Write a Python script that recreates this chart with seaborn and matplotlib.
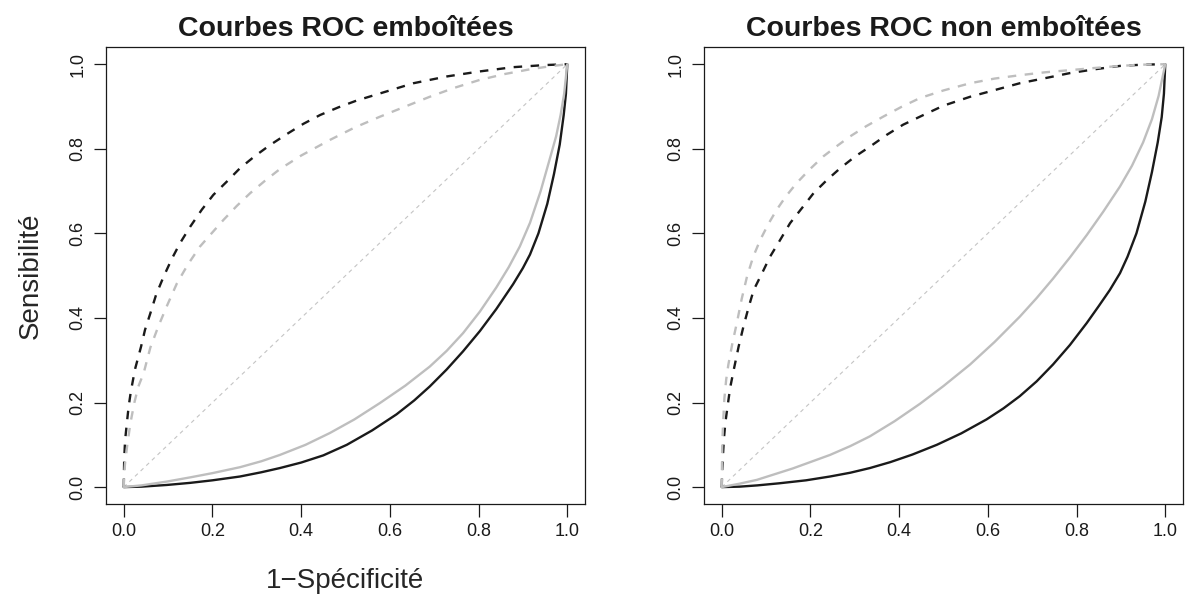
import matplotlib
matplotlib.use("Agg")
import matplotlib.pyplot as plt
import seaborn as sns

# ---------------- data ----------------
titles = ["Courbes ROC emboîtées", "Courbes ROC non emboîtées"]
xlabel = "1\u2212Spécificité"
ylabel = "Sensibilité"
ticks = [0.0, 0.2, 0.4, 0.6, 0.8, 1.0]
tick_labels = ["0.0", "0.2", "0.4", "0.6", "0.8", "1.0"]
diag = [0.0, 1.0]

# Panel 1 : nested curves
p1_black_dash_x = [0, 0.001, 0.003, 0.007, 0.011, 0.016, 0.021, 0.026, 0.039, 0.048, 0.060, 0.073, 0.090,
                   0.109, 0.127, 0.150, 0.176, 0.202, 0.232, 0.262, 0.296, 0.330, 0.368, 0.405, 0.443,
                   0.484, 0.525, 0.578, 0.653, 0.728, 0.803, 0.878, 0.950, 1.0]
p1_black_dash_y = [0, 0.065, 0.110, 0.151, 0.190, 0.226, 0.254, 0.281, 0.332, 0.372, 0.411, 0.455, 0.498,
                   0.541, 0.577, 0.616, 0.656, 0.691, 0.722, 0.754, 0.783, 0.809, 0.835, 0.859, 0.880,
                   0.898, 0.914, 0.931, 0.955, 0.971, 0.983, 0.993, 0.998, 1.0]
p1_grey_dash_x = [0, 0.001, 0.003, 0.008, 0.015, 0.024, 0.033, 0.045, 0.060, 0.078, 0.098, 0.120, 0.145,
                  0.172, 0.198, 0.225, 0.255, 0.285, 0.318, 0.352, 0.400, 0.465, 0.520, 0.578, 0.635,
                  0.690, 0.745, 0.803, 0.860, 0.916, 0.960, 1.0]
p1_grey_dash_y = [0, 0.030, 0.057, 0.100, 0.151, 0.200, 0.238, 0.270, 0.330, 0.380, 0.430, 0.482, 0.527,
                  0.569, 0.600, 0.632, 0.665, 0.695, 0.724, 0.752, 0.784, 0.821, 0.850, 0.876, 0.900,
                  0.923, 0.944, 0.963, 0.977, 0.988, 0.995, 1.0]
p1_black_solid_x = [0, 0.040, 0.097, 0.150, 0.200, 0.262, 0.310, 0.352, 0.400, 0.450, 0.503, 0.560, 0.615,
                    0.655, 0.690, 0.728, 0.765, 0.803, 0.840, 0.878, 0.900, 0.916, 0.935, 0.955, 0.970,
                    0.983, 0.992, 0.997, 1.0]
p1_black_solid_y = [0, 0.001, 0.005, 0.010, 0.016, 0.025, 0.035, 0.045, 0.058, 0.075, 0.100, 0.134, 0.172,
                    0.205, 0.238, 0.278, 0.321, 0.369, 0.421, 0.480, 0.518, 0.550, 0.600, 0.670, 0.740,
                    0.810, 0.880, 0.930, 1.0]
p1_grey_solid_x = [0, 0.040, 0.097, 0.150, 0.200, 0.262, 0.310, 0.352, 0.410, 0.465, 0.520, 0.578, 0.635,
                   0.690, 0.728, 0.765, 0.803, 0.840, 0.868, 0.893, 0.916, 0.940, 0.963, 0.975, 0.985,
                   0.993, 1.0]
p1_grey_solid_y = [0, 0.004, 0.013, 0.023, 0.033, 0.047, 0.061, 0.076, 0.100, 0.128, 0.160, 0.199, 0.240,
                   0.285, 0.322, 0.364, 0.415, 0.472, 0.520, 0.569, 0.625, 0.700, 0.785, 0.830, 0.880,
                   0.930, 1.0]

# Panel 2 : non-nested curves
p2_black_dash_x = [0, 0.001, 0.003, 0.005, 0.008, 0.013, 0.019, 0.027, 0.038, 0.049, 0.060, 0.072, 0.091,
                   0.109, 0.132, 0.154, 0.181, 0.207, 0.237, 0.267, 0.301, 0.334, 0.372, 0.409, 0.455,
                   0.500, 0.560, 0.616, 0.672, 0.729, 0.785, 0.841, 0.898, 0.950, 1.0]
p2_black_dash_y = [0, 0.040, 0.080, 0.115, 0.151, 0.190, 0.235, 0.277, 0.332, 0.380, 0.423, 0.466, 0.506,
                   0.545, 0.585, 0.624, 0.660, 0.695, 0.726, 0.754, 0.782, 0.805, 0.833, 0.857, 0.880,
                   0.902, 0.923, 0.939, 0.955, 0.967, 0.979, 0.988, 0.996, 0.999, 1.0]
p2_grey_dash_x = [0, 0.0005, 0.001, 0.003, 0.006, 0.010, 0.015, 0.024, 0.034, 0.045, 0.057, 0.071, 0.087,
                  0.105, 0.124, 0.145, 0.169, 0.198, 0.229, 0.259, 0.289, 0.325, 0.364, 0.405, 0.447,
                  0.500, 0.560, 0.615, 0.672, 0.730, 0.785, 0.840, 0.898, 0.950, 1.0]
p2_grey_dash_y = [0, 0.050, 0.096, 0.150, 0.210, 0.254, 0.290, 0.340, 0.388, 0.445, 0.498, 0.545, 0.585,
                  0.622, 0.656, 0.688, 0.719, 0.751, 0.782, 0.806, 0.829, 0.853, 0.876, 0.899, 0.920,
                  0.938, 0.955, 0.966, 0.974, 0.981, 0.986, 0.991, 0.996, 0.999, 1.0]
p2_black_solid_x = [0, 0.040, 0.080, 0.130, 0.190, 0.244, 0.290, 0.334, 0.380, 0.430, 0.485, 0.540, 0.597,
                    0.635, 0.672, 0.710, 0.747, 0.785, 0.823, 0.850, 0.875, 0.898, 0.915, 0.935, 0.955,
                    0.970, 0.983, 0.992, 0.997, 1.0]
p2_black_solid_y = [0, 0.001, 0.004, 0.009, 0.016, 0.025, 0.034, 0.045, 0.059, 0.077, 0.100, 0.127, 0.160,
                    0.186, 0.215, 0.250, 0.290, 0.336, 0.388, 0.428, 0.466, 0.506, 0.545, 0.600, 0.675,
                    0.745, 0.815, 0.875, 0.930, 1.0]
p2_grey_solid_x = [0, 0.040, 0.079, 0.160, 0.244, 0.290, 0.334, 0.390, 0.447, 0.500, 0.560, 0.615, 0.672,
                   0.710, 0.747, 0.785, 0.823, 0.860, 0.898, 0.925, 0.950, 0.970, 0.985, 1.0]
p2_grey_solid_y = [0, 0.008, 0.017, 0.044, 0.076, 0.097, 0.120, 0.156, 0.197, 0.239, 0.290, 0.343, 0.403,
                   0.447, 0.493, 0.543, 0.596, 0.651, 0.711, 0.760, 0.815, 0.870, 0.925, 1.0]

panels = [
    [(p1_black_solid_x, p1_black_solid_y, "black", "solid"),
     (p1_black_dash_x, p1_black_dash_y, "black", "dash"),
     (p1_grey_solid_x, p1_grey_solid_y, "grey", "solid"),
     (p1_grey_dash_x, p1_grey_dash_y, "grey", "dash")],
    [(p2_black_solid_x, p2_black_solid_y, "black", "solid"),
     (p2_black_dash_x, p2_black_dash_y, "black", "dash"),
     (p2_grey_solid_x, p2_grey_solid_y, "grey", "solid"),
     (p2_grey_dash_x, p2_grey_dash_y, "grey", "dash")],
]

# ---------------- style ----------------
sns.set_theme(style="white")
plt.rcParams["font.family"] = ["Liberation Sans", "DejaVu Sans"]
plt.rcParams["text.color"] = "#1a1a1a"
plt.rcParams["xtick.color"] = "#1a1a1a"
plt.rcParams["ytick.color"] = "#1a1a1a"
plt.rcParams["lines.solid_joinstyle"] = "round"
plt.rcParams["lines.solid_capstyle"] = "round"

colors = {"black": "#1a1a1a", "grey": "#bebebe"}
W, H = 1185, 599
fig = plt.figure(figsize=(W / 100, H / 100), dpi=100)

boxes = [(106, 47.3, 585, 504), (704, 47.3, 1183, 504)]

for i, (bx0, by0, bx1, by1) in enumerate(boxes):
    ax = fig.add_axes([bx0 / W, 1 - by1 / H, (bx1 - bx0) / W, (by1 - by0) / H])
    sns.lineplot(x=diag, y=diag, ax=ax, color="#c4c4c4", linewidth=0.8,
                 sort=False, estimator=None)
    ax.lines[-1].set_dashes((3.5, 3.5))
    for xs, ys, col, sty in panels[i]:
        sns.lineplot(x=xs, y=ys, ax=ax, color=colors[col], linewidth=1.7,
                     sort=False, estimator=None)
        if sty == "dash":
            ax.lines[-1].set_dashes((3.6, 3.6))
    ax.set_xlim(-0.04, 1.04)
    ax.set_ylim(-0.04, 1.04)
    ax.set_xticks(ticks)
    ax.set_xticklabels(tick_labels)
    ax.set_yticks(ticks)
    ax.set_yticklabels(tick_labels, rotation=90, va="center")
    ax.tick_params(axis="both", which="major", direction="out", length=9,
                   width=0.9, labelsize=13, bottom=True, left=True, pad=5)
    for s in ax.spines.values():
        s.set_linewidth(0.9)
        s.set_color("#1a1a1a")
    ax.set_title(titles[i], fontsize=20.5, fontweight="bold", pad=8)
    ax.set_xlabel("")
    ax.set_ylabel("")
    if i == 0:
        ax.set_xlabel(xlabel, fontsize=20)
        ax.xaxis.set_label_coords(0.5, -0.14)
        ax.set_ylabel(ylabel, fontsize=20)
        ax.yaxis.set_label_coords(-0.13, 0.5)

fig.savefig("out.png", dpi=100)
